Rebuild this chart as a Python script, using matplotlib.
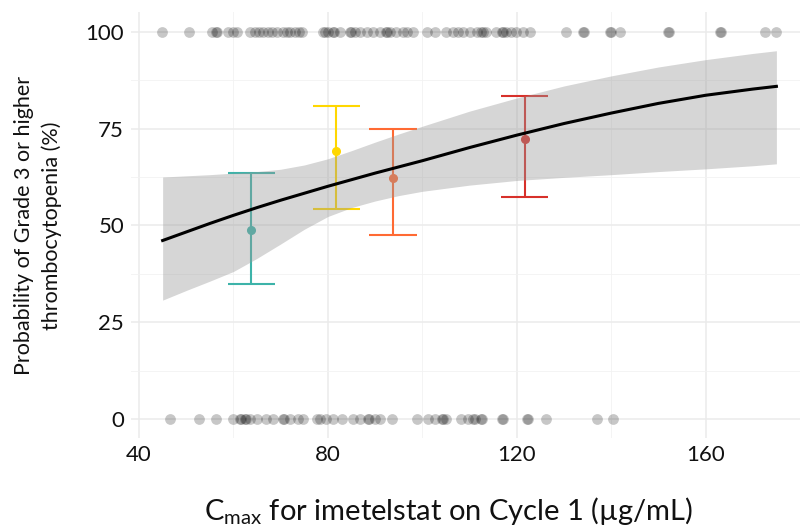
import matplotlib
matplotlib.use("Agg")
import matplotlib.pyplot as plt
from matplotlib.ticker import MultipleLocator

plt.rcParams["font.family"] = ["Lato", "DejaVu Sans"]
plt.rcParams["mathtext.fontset"] = "custom"
plt.rcParams["mathtext.rm"] = "Lato"
plt.rcParams["mathtext.it"] = "Lato:italic"

# Observed Cmax for patients with (100) and without (0) the event
cmax_event = [44.8, 50.6, 55.4, 56.4, 56.6, 58.8, 59.9, 60.7, 63.5, 64.5, 65.4, 66.2,
              67.3, 68.1, 69.2, 70.5, 71.3, 72.0, 73.0, 73.9, 74.5, 79.0, 79.3, 80.0,
              81.1, 81.3, 82.5, 84.7, 85.0, 85.7, 86.8, 88.2, 89.6, 91.0, 92.4, 92.6,
              93.1, 94.5, 95.9, 96.7, 98.0, 100.9, 102.6, 105.1, 106.5, 107.5, 108.6,
              110.1, 111.5, 112.5, 112.8, 113.4, 115.7, 116.8, 117.0, 117.8, 118.7,
              119.9, 121.3, 122.8, 130.5, 134.0, 134.2, 139.7, 139.9, 141.8, 152.0,
              152.2, 163.0, 163.2, 172.5, 175.0]
cmax_no_event = [46.6, 52.6, 56.4, 60.0, 61.4, 61.6, 62.4, 62.6, 63.5, 64.9, 67.0, 68.4,
                 70.5, 70.7, 72.0, 73.7, 74.8, 77.6, 78.3, 79.7, 81.1, 82.9, 85.4, 86.8,
                 88.5, 88.7, 89.9, 91.0, 93.5, 98.8, 101.2, 102.6, 104.1, 104.3, 105.1,
                 108.3, 109.7, 110.8, 111.1, 112.5, 112.7, 116.8, 117.0, 122.1, 122.3,
                 126.3, 136.9, 140.4]

# Logistic fit with 95% confidence band
fit_x = [45, 50, 55, 60, 65, 70, 75, 80, 85, 90, 95, 100, 110, 120, 130, 140, 150,
         160, 170, 175]
fit_y = [46.1, 48.3, 50.5, 52.6, 54.6, 56.5, 58.3, 60.1, 61.8, 63.5, 65.1, 66.7, 70.1,
         73.3, 76.3, 79.0, 81.5, 83.6, 85.2, 85.9]
fit_hi = [62.5, 62.8, 63.1, 63.5, 63.9, 64.5, 65.6, 67.2, 69.3, 71.5, 73.6, 75.6, 79.5,
          82.9, 86.0, 88.6, 90.9, 92.8, 94.4, 95.1]
fit_lo = [30.7, 33.2, 35.6, 38.1, 41.5, 45.2, 49.0, 52.3, 54.6, 56.3, 57.7, 58.8, 60.4,
          61.6, 62.4, 63.1, 63.9, 64.6, 65.4, 65.9]

# Observed rates by Cmax quartile
q_x = [63.8, 81.8, 93.8, 121.7]
q_rate = [48.8, 69.1, 62.2, 72.3]
q_lo = [34.9, 54.3, 47.4, 57.4]
q_hi = [63.5, 80.8, 75.0, 83.3]
q_colors = ["#3DB3A9", "#FFD700", "#FF6A33", "#D7302A"]

fig = plt.figure(figsize=(8, 5.25), dpi=100)
ax = fig.add_axes([131 / 800, (525 - 438.4) / 525, 669 / 800, 426 / 525])

for x, r, lo, hi, c in zip(q_x, q_rate, q_lo, q_hi, q_colors):
    ax.errorbar([x], [r], yerr=[[r - lo], [hi - r]], fmt="o", color=c, ms=5.5,
                elinewidth=1.5, capsize=0, zorder=2)
    ax.hlines([lo, hi], x - 5, x + 5, color=c, lw=1.5, zorder=2)

ax.fill_between(fit_x, fit_lo, fit_hi, color="#999999", alpha=0.4, lw=0, zorder=3)
ax.plot(fit_x, fit_y, color="black", lw=2.2, zorder=4)

ax.scatter(cmax_event, [100] * len(cmax_event), s=60, color="black", alpha=0.22,
           lw=0, zorder=5)
ax.scatter(cmax_no_event, [0] * len(cmax_no_event), s=60, color="black", alpha=0.22,
           lw=0, zorder=5)

ax.set_xlim(38.3, 180)
ax.set_ylim(-5, 105)
ax.xaxis.set_major_locator(MultipleLocator(40))
ax.xaxis.set_minor_locator(MultipleLocator(20))
ax.yaxis.set_major_locator(MultipleLocator(25))
ax.yaxis.set_minor_locator(MultipleLocator(12.5))
ax.grid(which="major", color="#EBEBEB", lw=1.1, zorder=0)
ax.grid(which="minor", color="#F2F2F2", lw=0.6, zorder=0)
ax.set_axisbelow(True)
for s in ax.spines.values():
    s.set_visible(False)
ax.tick_params(which="both", length=0, labelsize=16, colors="#111111", pad=5)

ax.set_xlabel(r"$\mathregular{C_{max}}$ for imetelstat on Cycle 1 (µg/mL)",
              fontsize=21, color="#111111")
ax.xaxis.set_label_coords(0.475, -0.132)
ax.set_ylabel("Probability of Grade 3 or higher\nthrombocytopenia (%)",
              fontsize=15.5, labelpad=17, color="#111111", linespacing=1.45)

fig.savefig("out.png", dpi=100)
